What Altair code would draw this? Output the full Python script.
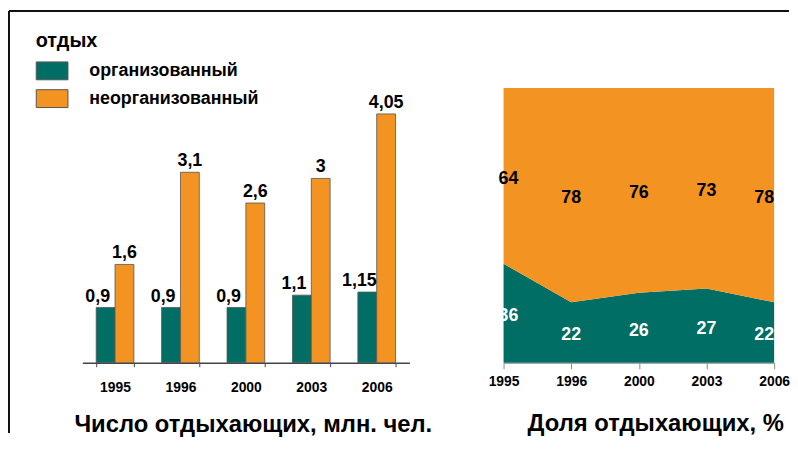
import altair as alt
import pandas as pd

FONT = "Liberation Sans"

years = ["1995", "1996", "2000", "2003", "2006"]
series_names = ["организованный", "неорганизованный"]
org_mln = [0.9, 0.9, 0.9, 1.1, 1.15]
unorg_mln = [1.6, 3.1, 2.6, 3, 4.05]
org_pct = [36, 22, 26, 27, 22]
unorg_pct = [64, 78, 76, 73, 78]
colors = ["#006e64", "#f29322"]

df_bars = pd.DataFrame({
    "year": years * 2,
    "series": [series_names[0]] * 5 + [series_names[1]] * 5,
    "value": org_mln + unorg_mln,
    "ord": [0] * 5 + [1] * 5,
})
df_area = pd.DataFrame({
    "year": years * 2,
    "series": [series_names[0]] * 5 + [series_names[1]] * 5,
    "value": org_pct + unorg_pct,
    "ord": [0] * 5 + [1] * 5,
})

leg = alt.Legend(
    title="отдых", orient="none", legendX=-47, legendY=-30,
    symbolType="M-1,-0.5625L1,-0.5625L1,0.5625L-1,0.5625Z", symbolSize=1024,
    symbolStrokeColor="#555", symbolStrokeWidth=1, symbolOpacity=1,
    labelFont=FONT, labelFontSize=18, labelFontWeight="bold", labelColor="#000",
    labelLimit=400,
    titleFont=FONT, titleFontSize=20, titleFontWeight="bold", titleColor="#000",
    labelOffset=21, rowPadding=0, titlePadding=4, direction="vertical",
)
color_scale = alt.Scale(domain=series_names, range=colors)

# ---- left: grouped bars
bx = alt.X("year:N", sort=years,
           scale=alt.Scale(paddingInner=0.424, paddingOuter=0.212),
           axis=alt.Axis(title="Число отдыхающих, млн. чел.", labelAngle=0,
                         tickBand="extent", tickSize=4, labelPadding=14,
                         domainColor="#444", tickColor="#444", domainWidth=1.5,
                         labelFont=FONT, labelFontSize=14, labelFontWeight="bold",
                         labelColor="#000",
                         titleFont=FONT, titleFontSize=24, titleFontWeight="bold",
                         titleColor="#000", titleX=172, titleY=69,
                         titleBaseline="alphabetic", titleAlign="center"))
bxo = alt.XOffset("series:N", sort=series_names,
                  scale=alt.Scale(paddingInner=0, paddingOuter=0))
by = alt.Y("value:Q", scale=alt.Scale(domain=[0, 4.92], nice=False), axis=None)

bbase = alt.Chart(df_bars).transform_calculate(
    label="replace(toString(datum.value), '.', ',')")
bars = bbase.mark_bar(stroke="#555", strokeWidth=0.8).encode(
    x=bx, xOffset=bxo, y=by,
    color=alt.Color("series:N", scale=color_scale, legend=leg))
lab_org = bbase.transform_filter(alt.datum.ord == 0).mark_text(
    dx=-8, dy=-6, baseline="alphabetic", font=FONT, fontSize=18,
    fontWeight="bold", color="#000").encode(x=bx, xOffset=bxo, y=by, text="label:N")
lab_un = bbase.transform_filter(alt.datum.ord == 1).mark_text(
    dy=-6, baseline="alphabetic", font=FONT, fontSize=18,
    fontWeight="bold", color="#000").encode(x=bx, xOffset=bxo, y=by, text="label:N")

frame_df = pd.DataFrame({"k": [0]})
frame_v = alt.Chart(frame_df).mark_rule(color="#111", strokeWidth=2).encode(
    x=alt.value(-74), y=alt.value(-50), y2=alt.value(376))
frame_h = alt.Chart(frame_df).mark_rule(color="#111", strokeWidth=2).encode(
    x=alt.value(-74), x2=alt.value(713), y=alt.value(-50))

left = alt.layer(bars, lab_org, lab_un, frame_v, frame_h).properties(width=330, height=305)

# ---- right: 100% stacked area
ax = alt.X("year:N", sort=years, scale=alt.Scale(type="point", padding=0),
           axis=alt.Axis(title="Доля отдыхающих, %", labelAngle=0, tickSize=6,
                         labelPadding=6, domainColor="#888", tickColor="#888",
                         labelFont=FONT, labelFontSize=14, labelFontWeight="bold",
                         labelColor="#000",
                         titleFont=FONT, titleFontSize=24, titleFontWeight="bold",
                         titleColor="#000", titleX=153, titleY=68,
                         titleBaseline="alphabetic", titleAlign="center"))
abase = alt.Chart(df_area).transform_stack(
    stack="value", groupby=["year"], sort=[alt.SortField("ord")],
    as_=["y0", "y1"], offset="normalize"
).transform_calculate(mid="(datum.y0 + datum.y1) / 2")
ay_scale = alt.Scale(domain=[0, 1.1], nice=False)
area = abase.mark_area(opacity=1).encode(
    x=ax, y=alt.Y("y1:Q", scale=ay_scale, axis=None), y2="y0:Q",
    color=alt.Color("series:N", scale=color_scale, legend=leg))
tcolor = alt.condition(alt.datum.ord == 0, alt.value("white"), alt.value("black"))


def area_labels(flt, dx):
    return abase.transform_filter(flt).mark_text(
        dx=dx, dy=3, baseline="middle", font=FONT, fontSize=18, fontWeight="bold").encode(
        x=ax, y=alt.Y("mid:Q", scale=ay_scale, axis=None), text="value:Q", color=tcolor)


alab0 = area_labels(alt.datum.year == "1995", 5)
alab1 = area_labels((alt.datum.year != "1995") & (alt.datum.year != "2006"), 0)
alab2 = area_labels(alt.datum.year == "2006", -10)

right = alt.layer(area, alab0, alab1, alab2).properties(width=273, height=305)

chart = alt.hconcat(left, right, spacing=95, bounds="flush").properties(
    padding=0, background="white"
).configure_view(stroke=None)

chart.save("out.html", embed_options={"renderer": "svg", "actions": False})
